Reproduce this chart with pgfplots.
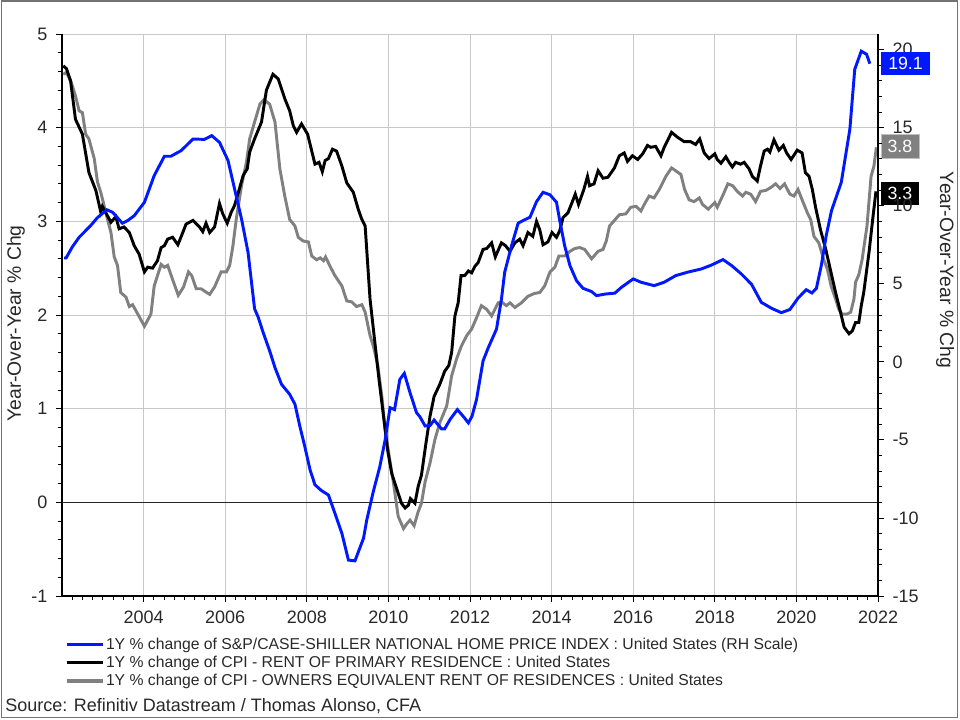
\documentclass[border=0pt]{standalone}
\usepackage{fontspec}
\setmainfont{Liberation Sans}
\usepackage{pgfplots}
\pgfplotsset{compat=1.18}
\definecolor{hpblue}{RGB}{0,24,255}
\definecolor{oergray}{RGB}{128,128,128}
\definecolor{gridgray}{RGB}{200,200,200}
\definecolor{txt}{RGB}{40,40,40}
\newcommand{\tickfont}{\fontsize{13.5}{16}\selectfont}
\newcommand{\labfont}{\fontsize{14.5}{17}\selectfont}
\newcommand{\legfont}{\fontsize{11.8}{13}\selectfont}
\newcommand{\boxfont}{\fontsize{13.3}{16}\selectfont}

\begin{document}
\begin{tikzpicture}
\useasboundingbox (-46.5pt,-93pt) rectangle (673.5pt,447pt);
\draw[black!55, line width=1.2pt] (-45.4pt,-91.1pt) rectangle (671.6pt,446.3pt);
\begin{axis}[
  at={(0,0)}, anchor=south west,
  width=612pt, height=421.5pt, scale only axis,
  clip=false,
  xmin=2002, xmax=2022, ymin=-1, ymax=5,
  axis x line*=bottom, axis y line*=left,
  xtick={2004,2006,...,2022},
  minor xtick={2002.25,2002.5,...,2021.9},
  ytick={-1,0,...,5}, minor y tick num=4,
  xmajorgrids, ymajorgrids,
  major grid style={gridgray, line width=0.6pt},
  extra y ticks={0}, extra y tick labels={},
  extra y tick style={major grid style={black!85, line width=0.8pt}},
  tick align=outside,
  major tick length=4.5pt, minor tick length=3pt,
  every tick/.style={black, line width=0.6pt},
  axis line style={black, line width=0.8pt},
  tick label style={font=\tickfont, text=txt},
  /pgf/number format/assume math mode=true,
  /pgf/number format/1000 sep={},
  xticklabel style={yshift=-3pt},
  yticklabel style={xshift=-3pt},
  ylabel={Year-Over-Year \% Chg},
  ylabel style={font=\labfont, text=txt, at={(axis description cs:-0.0564,0.485)}, anchor=center},
  legend style={draw=none, fill=none, at={(axis description cs:0,0)}, anchor=north west,
     xshift=2pt, yshift=-30pt, font=\legfont, text=txt, row sep=1.2pt, inner sep=0pt,
     nodes={inner sep=1.2pt}},
  legend cell align=left,
  legend image code/.code={\draw[#1, line width=2.6pt] (0pt,0pt) -- (27pt,0pt);},
]
\addlegendimage{hpblue}
\addlegendentry{1Y \% change of S\&P/CASE-SHILLER NATIONAL HOME PRICE INDEX : United States (RH Scale)}

\addplot[oergray, line width=2.2pt, forget plot] coordinates {
(2002.03,4.57)(2002.11,4.59)(2002.23,4.48)(2002.33,4.34)(2002.42,4.18)(2002.50,4.16)(2002.58,3.93)(2002.66,3.88)(2002.79,3.67)(2002.87,3.42)(2002.95,3.31)(2003.07,3.10)(2003.20,2.88)(2003.28,2.62)(2003.36,2.53)(2003.44,2.24)(2003.57,2.19)(2003.65,2.09)(2003.73,2.11)(2003.87,2.0)(2004.02,1.88)(2004.18,2.01)(2004.26,2.31)(2004.34,2.42)(2004.43,2.54)(2004.51,2.51)(2004.59,2.53)(2004.71,2.38)(2004.85,2.21)(2004.98,2.30)(2005.10,2.46)(2005.18,2.42)(2005.29,2.28)(2005.41,2.28)(2005.51,2.25)(2005.62,2.22)(2005.74,2.30)(2005.90,2.46)(2006.03,2.46)(2006.11,2.53)(2006.19,2.74)(2006.27,3.02)(2006.40,3.38)(2006.52,3.63)(2006.60,3.88)(2006.72,4.06)(2006.85,4.25)(2006.95,4.30)(2007.09,4.25)(2007.22,4.06)(2007.34,3.56)(2007.46,3.27)(2007.58,3.02)(2007.71,2.95)(2007.79,2.83)(2007.91,2.79)(2008.04,2.78)(2008.12,2.63)(2008.24,2.59)(2008.33,2.61)(2008.41,2.58)(2008.46,2.62)(2008.57,2.52)(2008.69,2.42)(2008.86,2.31)(2008.98,2.15)(2009.10,2.14)(2009.22,2.09)(2009.35,2.11)(2009.43,2.03)(2009.55,1.78)(2009.63,1.67)(2009.74,1.46)(2009.84,1.13)(2009.92,0.78)(2010.02,0.49)(2010.12,0.22)(2010.24,-0.15)(2010.37,-0.28)(2010.45,-0.23)(2010.53,-0.19)(2010.63,-0.25)(2010.73,-0.10)(2010.81,-0.01)(2010.90,0.22)(2011.02,0.42)(2011.14,0.67)(2011.26,0.85)(2011.43,1.03)(2011.55,1.35)(2011.67,1.53)(2011.79,1.67)(2011.92,1.78)(2012.04,1.85)(2012.16,1.97)(2012.28,2.10)(2012.41,2.06)(2012.53,1.99)(2012.69,2.13)(2012.77,2.14)(2012.89,2.10)(2012.98,2.13)(2013.10,2.08)(2013.26,2.13)(2013.42,2.20)(2013.58,2.23)(2013.71,2.24)(2013.83,2.31)(2013.96,2.46)(2014.08,2.51)(2014.18,2.63)(2014.32,2.63)(2014.45,2.68)(2014.57,2.71)(2014.69,2.72)(2014.81,2.70)(2014.98,2.60)(2015.14,2.68)(2015.26,2.70)(2015.34,2.79)(2015.42,2.95)(2015.54,3.01)(2015.66,3.07)(2015.82,3.08)(2015.94,3.15)(2016.07,3.16)(2016.19,3.11)(2016.27,3.18)(2016.39,3.27)(2016.51,3.25)(2016.64,3.34)(2016.80,3.48)(2016.94,3.57)(2017.04,3.54)(2017.17,3.50)(2017.26,3.34)(2017.37,3.23)(2017.49,3.21)(2017.62,3.25)(2017.70,3.18)(2017.84,3.13)(2018.0,3.20)(2018.06,3.15)(2018.19,3.27)(2018.32,3.40)(2018.44,3.38)(2018.55,3.32)(2018.68,3.27)(2018.76,3.31)(2018.88,3.29)(2019.00,3.21)(2019.12,3.32)(2019.25,3.33)(2019.37,3.36)(2019.49,3.40)(2019.60,3.35)(2019.71,3.40)(2019.84,3.29)(2019.94,3.27)(2020.04,3.34)(2020.14,3.23)(2020.27,3.09)(2020.35,3.02)(2020.43,2.84)(2020.55,2.77)(2020.67,2.59)(2020.76,2.49)(2020.85,2.31)(2020.96,2.17)(2021.04,2.06)(2021.12,2.01)(2021.24,2.01)(2021.33,2.03)(2021.41,2.17)(2021.45,2.35)(2021.53,2.43)(2021.61,2.59)(2021.73,2.95)(2021.83,3.48)(2021.90,3.59)(2021.96,3.79)
};
\addplot[black, line width=2.2pt] coordinates {
(2002.03,4.66)(2002.11,4.63)(2002.21,4.50)(2002.33,4.09)(2002.50,3.93)(2002.66,3.52)(2002.83,3.33)(2002.95,3.10)(2002.99,3.16)(2003.20,2.99)(2003.32,3.05)(2003.40,2.92)(2003.52,2.94)(2003.65,2.88)(2003.77,2.74)(2003.89,2.65)(2004.02,2.46)(2004.10,2.51)(2004.22,2.50)(2004.34,2.58)(2004.43,2.72)(2004.51,2.74)(2004.59,2.81)(2004.71,2.83)(2004.84,2.75)(2004.96,2.88)(2005.04,2.97)(2005.21,3.01)(2005.37,2.94)(2005.45,2.89)(2005.53,2.98)(2005.62,2.88)(2005.74,2.94)(2005.86,3.19)(2005.94,3.08)(2006.05,2.98)(2006.15,3.10)(2006.23,3.17)(2006.35,3.35)(2006.44,3.49)(2006.54,3.56)(2006.60,3.74)(2006.72,3.88)(2006.89,4.06)(2007.01,4.40)(2007.17,4.57)(2007.30,4.52)(2007.46,4.31)(2007.58,4.18)(2007.67,4.02)(2007.75,3.95)(2007.87,4.04)(2008.02,3.93)(2008.20,3.61)(2008.30,3.63)(2008.38,3.53)(2008.45,3.65)(2008.53,3.67)(2008.63,3.77)(2008.73,3.75)(2008.86,3.59)(2008.98,3.41)(2009.14,3.31)(2009.26,3.13)(2009.35,3.02)(2009.43,2.95)(2009.55,2.17)(2009.66,1.74)(2009.77,1.31)(2009.88,0.92)(2009.98,0.56)(2010.08,0.31)(2010.20,0.15)(2010.32,-0.01)(2010.41,-0.06)(2010.49,-0.03)(2010.54,0.04)(2010.65,-0.01)(2010.73,0.17)(2010.81,0.29)(2010.91,0.60)(2011.02,0.92)(2011.12,1.13)(2011.26,1.26)(2011.38,1.40)(2011.48,1.46)(2011.55,1.60)(2011.63,1.99)(2011.71,2.13)(2011.78,2.42)(2011.87,2.42)(2011.96,2.47)(2012.04,2.45)(2012.12,2.52)(2012.20,2.56)(2012.32,2.70)(2012.41,2.71)(2012.53,2.77)(2012.62,2.62)(2012.77,2.77)(2012.87,2.74)(2012.98,2.68)(2013.10,2.77)(2013.22,2.81)(2013.30,2.74)(2013.42,2.88)(2013.54,2.84)(2013.63,3.00)(2013.71,2.91)(2013.79,2.75)(2013.91,2.78)(2014.01,2.88)(2014.12,2.83)(2014.20,2.90)(2014.28,3.04)(2014.40,3.09)(2014.50,3.20)(2014.58,3.29)(2014.66,3.18)(2014.79,3.34)(2014.88,3.48)(2014.93,3.38)(2015.04,3.40)(2015.14,3.54)(2015.26,3.46)(2015.38,3.47)(2015.54,3.57)(2015.66,3.70)(2015.78,3.73)(2015.86,3.64)(2015.98,3.70)(2016.11,3.66)(2016.23,3.72)(2016.35,3.81)(2016.43,3.79)(2016.55,3.80)(2016.68,3.70)(2016.76,3.79)(2016.94,3.95)(2017.08,3.90)(2017.25,3.85)(2017.41,3.85)(2017.53,3.82)(2017.63,3.88)(2017.74,3.73)(2017.86,3.67)(2018.0,3.72)(2018.06,3.66)(2018.15,3.62)(2018.27,3.69)(2018.35,3.63)(2018.43,3.58)(2018.51,3.63)(2018.63,3.61)(2018.72,3.63)(2018.84,3.56)(2018.92,3.48)(2019.04,3.43)(2019.12,3.59)(2019.21,3.75)(2019.29,3.77)(2019.35,3.74)(2019.45,3.87)(2019.57,3.76)(2019.68,3.81)(2019.76,3.73)(2019.87,3.66)(2020.02,3.76)(2020.14,3.73)(2020.22,3.52)(2020.31,3.48)(2020.39,3.34)(2020.47,3.15)(2020.59,2.91)(2020.72,2.70)(2020.84,2.47)(2020.96,2.24)(2021.08,2.03)(2021.17,1.87)(2021.29,1.80)(2021.37,1.83)(2021.45,1.92)(2021.53,1.92)(2021.59,2.10)(2021.65,2.24)(2021.78,2.67)(2021.88,3.06)(2021.95,3.32)
};
\addlegendentry{1Y \% change of CPI - RENT OF PRIMARY RESIDENCE : United States}
\addlegendimage{oergray}
\addlegendentry{1Y \% change of CPI - OWNERS EQUIVALENT RENT OF RESIDENCES : United States}

\node[fill=oergray, draw=gray!50, text=white, font=\boxfont, anchor=west, inner xsep=5pt, minimum height=17.5pt, xshift=2pt] at (axis cs:2022,3.8) {3.8};
\node[fill=black, text=white, font=\boxfont, anchor=west, inner xsep=5pt, minimum height=17.5pt, xshift=2pt] at (axis cs:2022,3.3) {3.3};
\end{axis}

\begin{axis}[
  at={(0,0)}, anchor=south west,
  width=612pt, height=421.5pt, scale only axis,
  clip=false,
  xmin=2002, xmax=2022, ymin=-15, ymax=21,
  axis x line=none, axis y line*=right,
  ytick={-15,-10,...,20}, minor y tick num=4,
  tick align=outside,
  major tick length=4.5pt, minor tick length=3pt,
  every tick/.style={black, line width=0.6pt},
  axis line style={black, line width=0.8pt},
  tick label style={font=\tickfont, text=txt},
  /pgf/number format/assume math mode=true,
  yticklabel style={xshift=3pt},
  ylabel={Year-Over-Year \% Chg},
  ylabel style={font=\labfont, text=txt, at={(axis description cs:1.0821,0.58)}, anchor=center, rotate=180},
]
\addplot[hpblue, line width=2.2pt] coordinates {
(2002.05,6.65)(2002.10,6.65)(2002.25,7.35)(2002.42,7.98)(2002.70,8.72)(2002.87,9.24)(2003.10,9.74)(2003.24,9.58)(2003.48,8.88)(2003.61,9.05)(2003.77,9.36)(2004.02,10.22)(2004.26,11.93)(2004.51,13.17)(2004.67,13.17)(2004.92,13.53)(2005.21,14.27)(2005.49,14.25)(2005.67,14.49)(2005.86,14.06)(2006.07,12.89)(2006.23,11.07)(2006.40,9.15)(2006.56,7.01)(2006.72,3.4)(2006.81,2.85)(2006.93,1.88)(2007.09,0.70)(2007.22,-0.37)(2007.38,-1.44)(2007.58,-2.08)(2007.71,-2.72)(2007.83,-4.13)(2007.95,-5.42)(2008.08,-6.92)(2008.20,-7.88)(2008.36,-8.25)(2008.53,-8.53)(2008.69,-9.71)(2008.86,-10.99)(2009.02,-12.70)(2009.18,-12.75)(2009.39,-11.3)(2009.47,-10.13)(2009.63,-8.31)(2009.79,-6.71)(2009.92,-5.0)(2010.04,-2.94)(2010.15,-3.06)(2010.28,-1.13)(2010.39,-0.74)(2010.53,-1.98)(2010.69,-3.26)(2010.77,-3.51)(2010.90,-4.11)(2011.02,-4.08)(2011.12,-3.73)(2011.30,-4.29)(2011.38,-4.29)(2011.51,-3.7)(2011.69,-3.06)(2011.83,-3.48)(2011.96,-3.91)(2012.05,-3.48)(2012.16,-2.41)(2012.32,0.06)(2012.45,0.92)(2012.65,2.1)(2012.70,2.9)(2012.77,4.0)(2012.85,5.74)(2013.02,7.45)(2013.18,8.88)(2013.30,9.05)(2013.47,9.26)(2013.63,10.26)(2013.79,10.86)(2013.96,10.7)(2014.12,10.22)(2014.20,9.04)(2014.32,7.44)(2014.45,6.16)(2014.61,5.2)(2014.77,4.71)(2014.98,4.5)(2015.10,4.24)(2015.31,4.34)(2015.55,4.4)(2015.71,4.77)(2016.0,5.31)(2016.19,5.1)(2016.51,4.88)(2016.76,5.1)(2017.04,5.52)(2017.33,5.74)(2017.67,5.95)(2017.92,6.2)(2018.20,6.55)(2018.41,6.17)(2018.65,5.63)(2018.90,4.97)(2019.14,3.81)(2019.39,3.43)(2019.63,3.15)(2019.84,3.35)(2020.04,4.08)(2020.24,4.62)(2020.38,4.41)(2020.49,4.71)(2020.61,6.17)(2020.73,8.08)(2020.86,9.68)(2021.10,11.5)(2021.31,14.9)(2021.43,18.74)(2021.59,19.9)(2021.72,19.7)(2021.80,19.1)
};
\node[fill=hpblue, text=white, font=\boxfont, anchor=west, inner xsep=5.5pt, minimum height=17.5pt, xshift=2pt] at (axis cs:2022,19.1) {19.1};
\end{axis}
\node[anchor=base west, font=\tickfont, text=txt, inner sep=0pt] at (-42.75pt,-86.5pt) {Source: Refinitiv Datastream / Thomas Alonso, CFA};
\end{tikzpicture}
\end{document}
